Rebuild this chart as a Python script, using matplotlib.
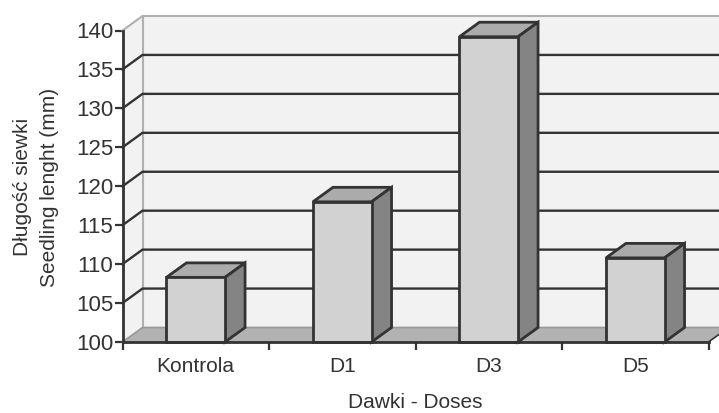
"""Pseudo-3D bar chart of seedling length by dose."""
import matplotlib
matplotlib.use("Agg")
import matplotlib.pyplot as plt
from matplotlib.patches import Polygon

plt.rcParams["font.family"] = ["Liberation Sans", "DejaVu Sans"]

categories = ["Kontrola", "D1", "D3", "D5"]
lengths = [108.3, 118.0, 139.2, 110.8]
y_ticks = [100, 105, 110, 115, 120, 125, 130, 135, 140]

W, H = 719, 413
LEFT, RIGHT, BASE, TOP = 122.5, 708.5, 342, 30.5
DARK = "#333333"
WALL = "#f2f2f2"
FLOOR = "#b2b2b2"
EDGE = "#b0b0b0"

fig = plt.figure(figsize=(W / 100, H / 100), dpi=100)
ax = fig.add_axes([LEFT / W, 1 - BASE / H, (RIGHT - LEFT) / W, (BASE - TOP) / H])
ax.set_xlim(0, len(categories))
ax.set_ylim(y_ticks[0], y_ticks[-1])

# depth of the fake 3D box, in data units
dx = 20 / ((RIGHT - LEFT) / len(categories))
dy = 14.5 / ((BASE - TOP) / (y_ticks[-1] - y_ticks[0]))
n = len(categories)
y0, y1 = y_ticks[0], y_ticks[-1]


def add(points, **kw):
    ax.add_patch(Polygon(points, closed=True, clip_on=False, **kw))


# walls and floor
add([(dx, y0 + dy), (n + dx, y0 + dy), (n + dx, y1 + dy), (dx, y1 + dy)],
    fc=WALL, ec="none", zorder=1)
add([(0, y0), (dx, y0 + dy), (dx, y1 + dy), (0, y1)], fc=WALL, ec="none", zorder=1)
add([(0, y0), (n, y0), (n + dx, y0 + dy), (dx, y0 + dy)], fc=FLOOR, ec="none", zorder=1)
ax.plot([0, dx, n + dx], [y1, y1 + dy, y1 + dy], color=EDGE, lw=1.5, clip_on=False, zorder=2)
ax.plot([dx, dx], [y0 + dy, y1 + dy], color=EDGE, lw=1.5, clip_on=False, zorder=2)
ax.plot([0, dx, n + dx], [y0, y0 + dy, y0 + dy], color="#999999", lw=1.2, clip_on=False, zorder=2)

# gridlines on the side and back walls
for t in y_ticks[1:-1]:
    ax.plot([0, dx, n + dx], [t, t + dy, t + dy], color=DARK, lw=1.7, clip_on=False, zorder=3)

# bars: front face plus top and side polygons
bar_w = 0.4
xs = [i + 0.5 for i in range(n)]
ax.bar(xs, [v - y0 for v in lengths], bottom=y0, width=bar_w, color="#d2d2d2",
       edgecolor=DARK, linewidth=2.0, zorder=6, clip_on=False)
for x, v in zip(xs, lengths):
    l, r = x - bar_w / 2, x + bar_w / 2
    add([(l, v), (r, v), (r + dx, v + dy), (l + dx, v + dy)],
        fc="#ababab", ec=DARK, lw=2.0, joinstyle="miter", zorder=5)
    add([(r, y0), (r + dx, y0 + dy), (r + dx, v + dy), (r, v)],
        fc="#848484", ec=DARK, lw=2.0, joinstyle="miter", zorder=5)

for s in ["top", "right"]:
    ax.spines[s].set_visible(False)
for s in ["left", "bottom"]:
    ax.spines[s].set_color(DARK)
    ax.spines[s].set_linewidth(2.0)
    ax.spines[s].set_zorder(7)
ax.plot([n, n + dx * 0.5], [y0, y0 + dy * 0.5], color=DARK, lw=1.2, clip_on=False, zorder=2)

ax.set_yticks(y_ticks)
ax.tick_params(axis="y", length=5.5, width=1.6, color=DARK, labelcolor=DARK,
               labelsize=16, pad=1)
ax.set_xticks(range(n + 1))
ax.set_xticklabels([])
ax.tick_params(axis="x", length=5.5, width=1.6, color=DARK)
for x, c in zip(xs, categories):
    ax.annotate(c, (x, y0), xytext=(0, -24), textcoords="offset pixels", ha="center",
                va="center", fontsize=15, color=DARK, annotation_clip=False)

fig.text(415 / W, 1 - 403 / H, "Dawki - Doses", ha="center", va="center",
         fontsize=15, color=DARK)
fig.text(36 / W, 1 - 187 / H, "Długość siewki\nSeedling lenght (mm)", rotation=90,
         ha="center", va="center", ma="center", fontsize=15, color=DARK, linespacing=1.55)

fig.savefig("out.png", dpi=100)
